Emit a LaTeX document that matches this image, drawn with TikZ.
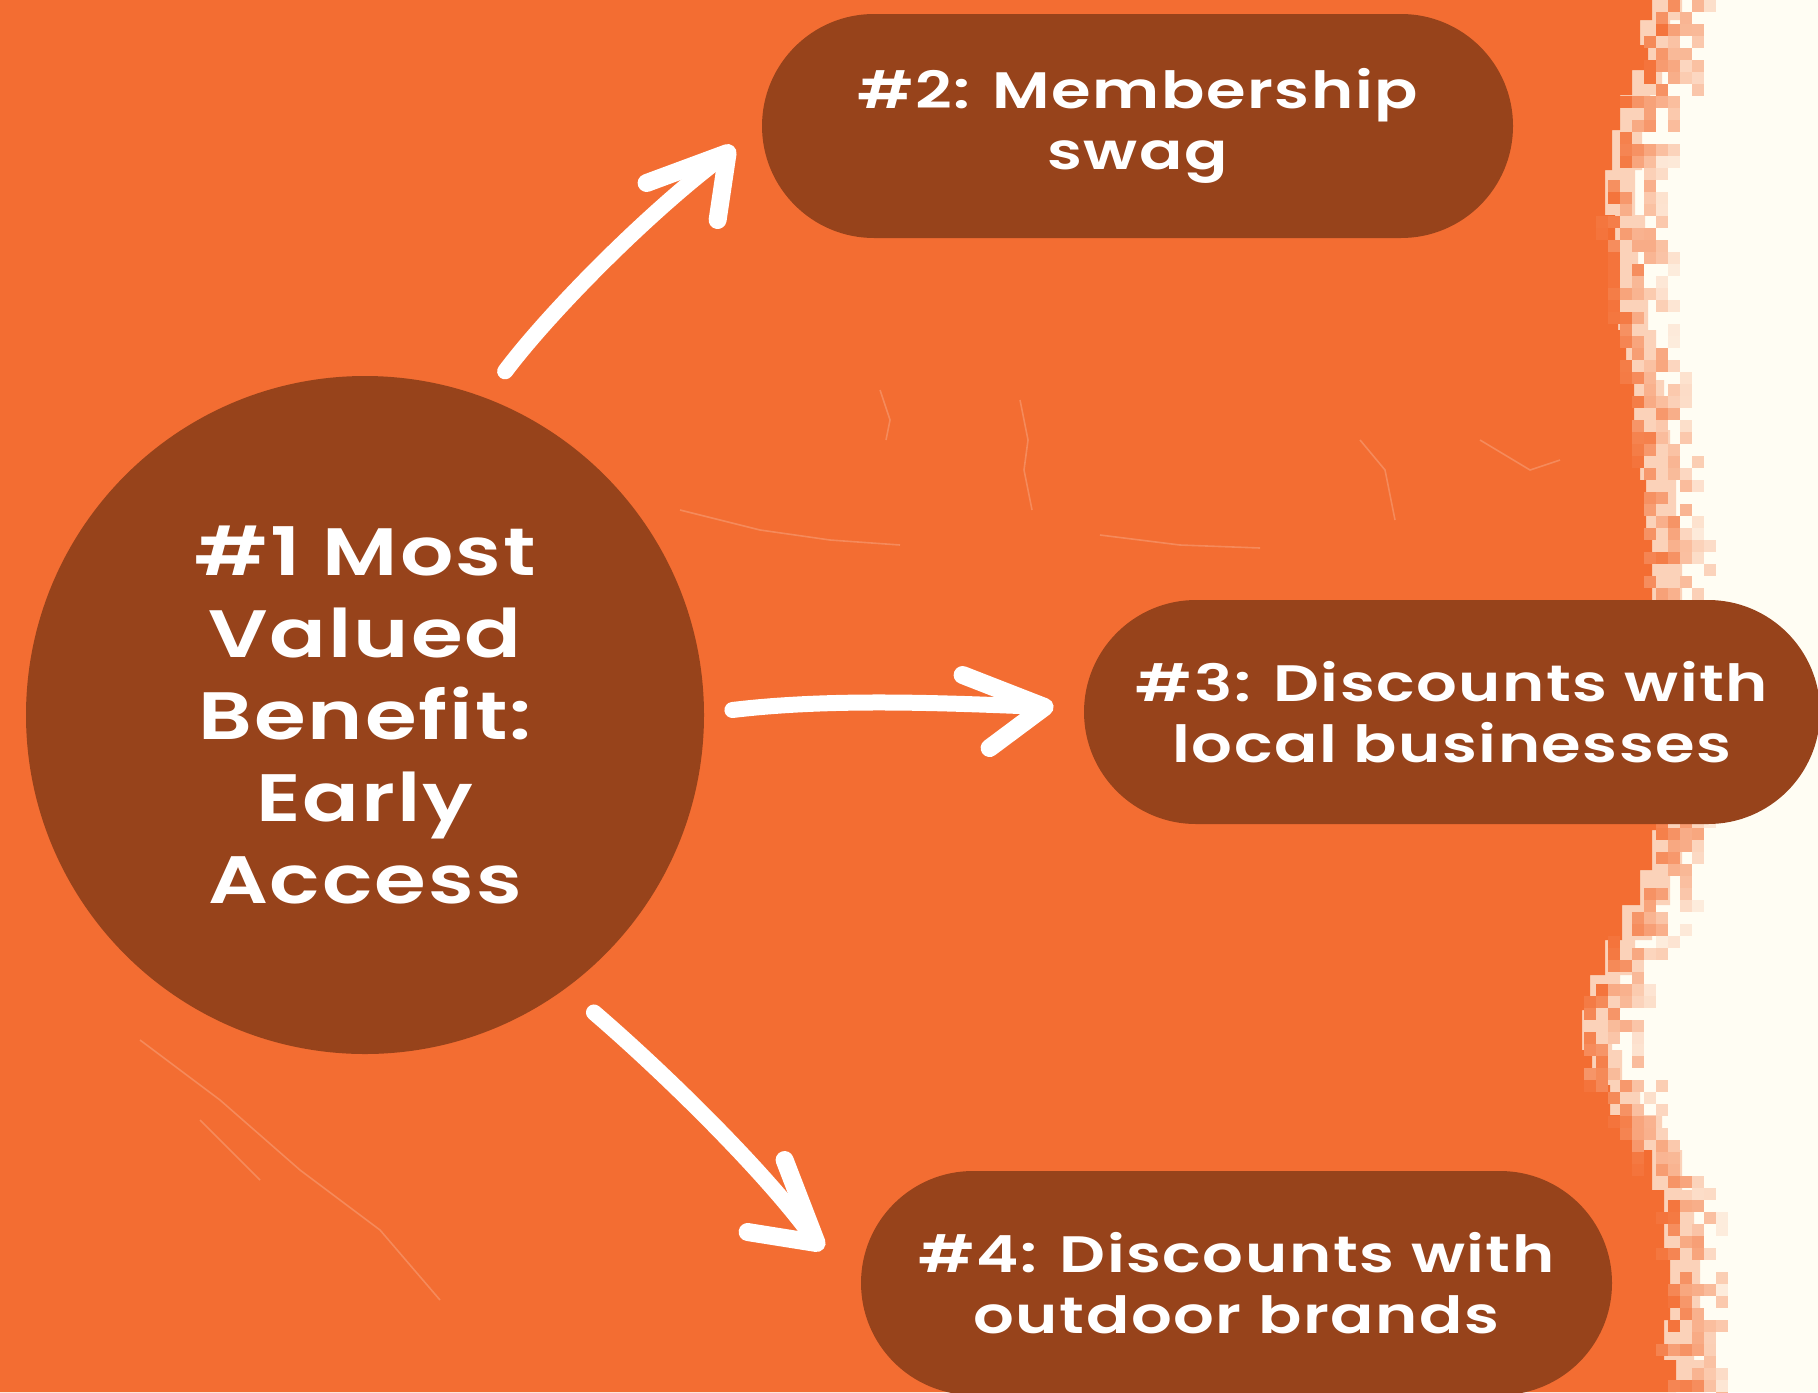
\documentclass[tikz,border=0pt]{standalone}
\usepackage{fontspec}
\usetikzlibrary{calc}
\newfontfamily\widefont{Poppins}[FakeStretch=1.25,LetterSpace=3,BoldFont={Poppins SemiBold}]
\newcommand\pillfont{\widefont\bfseries\fontsize{25.6pt}{30.5pt}\selectfont}
\newcommand\circfont{\widefont\bfseries\fontsize{33.5pt}{41pt}\selectfont}
\definecolor{bgorange}{HTML}{F36D32}
\definecolor{cream}{HTML}{FFFDF3}
\definecolor{brownc}{HTML}{97431B}
\begin{document}
\begin{tikzpicture}[x=0.5pt,y=-0.5pt,
  pill/.style={fill=brownc, rounded corners=56pt, minimum height=112pt, inner sep=0pt, text=white, align=center, font=\pillfont},
  bubble/.style={circle, fill=brownc, minimum size=339pt, inner sep=0pt, text=white, align=center, font=\circfont},
  arrowline/.style={draw=white, line width=8pt, line cap=round, line join=round},
  headline/.style={draw=white, line width=9pt, line cap=round, line join=round},
  scratch/.style={draw=white, opacity=0.2, line width=0.8pt}]
\useasboundingbox (0,0) rectangle (1818,1392);
% background
\fill[cream] (0,0) rectangle (1818,1392);
% pale transition band
\fill[bgorange!30!cream] (0,0) -- (1682,0) -- (1682,20) -- (1670,20) -- (1670,45) -- (1678,45) -- (1678,70) -- (1662,70) -- (1662,95) -- (1650,95) -- (1650,130) -- (1642,130) -- (1642,170) -- (1635,170) -- (1635,215) -- (1645,215) -- (1645,250) -- (1638,250) -- (1638,290) -- (1648,290) -- (1648,330) -- (1656,330) -- (1656,380) -- (1664,380) -- (1664,430) -- (1670,430) -- (1670,480) -- (1676,480) -- (1676,540) -- (1682,540) -- (1682,600) -- (1690,600) -- (1690,830) -- (1682,830) -- (1682,870) -- (1670,870) -- (1670,905) -- (1652,905) -- (1652,940) -- (1635,940) -- (1635,975) -- (1620,975) -- (1620,1010) -- (1612,1010) -- (1612,1050) -- (1622,1050) -- (1622,1085) -- (1640,1085) -- (1640,1115) -- (1662,1115) -- (1662,1150) -- (1682,1150) -- (1682,1190) -- (1694,1190) -- (1694,1250) -- (1700,1250) -- (1700,1320) -- (1694,1320) -- (1694,1360) -- (1706,1360) -- (1706,1392) -- (0,1392) -- cycle;
% orange area
\fill[bgorange] (0,0) -- (1652,0) -- (1652,20) -- (1640,20) -- (1640,45) -- (1648,45) -- (1648,70) -- (1632,70) -- (1632,95) -- (1620,95) -- (1620,130) -- (1612,130) -- (1612,170) -- (1605,170) -- (1605,215) -- (1615,215) -- (1615,250) -- (1608,250) -- (1608,290) -- (1618,290) -- (1618,330) -- (1626,330) -- (1626,380) -- (1634,380) -- (1634,430) -- (1640,430) -- (1640,480) -- (1646,480) -- (1646,540) -- (1652,540) -- (1652,600) -- (1660,600) -- (1660,830) -- (1652,830) -- (1652,870) -- (1640,870) -- (1640,905) -- (1622,905) -- (1622,940) -- (1605,940) -- (1605,975) -- (1590,975) -- (1590,1010) -- (1582,1010) -- (1582,1050) -- (1592,1050) -- (1592,1085) -- (1610,1085) -- (1610,1115) -- (1632,1115) -- (1632,1150) -- (1652,1150) -- (1652,1190) -- (1664,1190) -- (1664,1250) -- (1670,1250) -- (1670,1320) -- (1664,1320) -- (1664,1360) -- (1676,1360) -- (1676,1392) -- (0,1392) -- cycle;
% pixelated fuzzy edge
\pgfmathsetseed{4242}
\foreach \ey/\ex in {0/1652,30/1642,60/1646,90/1630,120/1620,150/1612,180/1608,210/1606,240/1614,270/1610,300/1614,330/1620,360/1625,390/1630,420/1633,450/1638,480/1642,510/1645,540/1648,570/1652,810/1656,840/1652,870/1642,900/1625,930/1610,960/1598,990/1588,1020/1584,1050/1588,1080/1598,1110/1615,1140/1635,1170/1652,1200/1662,1230/1666,1260/1668,1290/1670,1320/1666,1350/1668,1380/1676}{
  \foreach \k in {1,...,11}{
    \pgfmathsetmacro\qo{30*rand+24}
    \pgfmathsetmacro\qx{12*round((\ex+\qo)/12)}
    \pgfmathsetmacro\qy{12*round((\ey+15*rand+15)/12)}
    \pgfmathsetmacro\qm{int(max(12,min(95,86-1.25*\qo+14*rand)))}
    \fill[bgorange!\qm!cream] (\qx,\qy) rectangle ++(12,12);
  }
}
% faint scratches
\draw[scratch] (1020,400) -- (1028,440) -- (1024,470) -- (1032,510);
\draw[scratch] (880,390) -- (890,420) -- (886,440);
\draw[scratch] (1360,440) -- (1385,470) -- (1395,520);
\draw[scratch] (680,510) -- (760,530) -- (830,540) -- (900,545);
\draw[scratch] (1100,535) -- (1180,545) -- (1260,548);
\draw[scratch] (140,1040) -- (220,1100) -- (300,1170) -- (380,1230) -- (440,1300);
\draw[scratch] (200,1120) -- (260,1180);
\draw[scratch] (1480,440) -- (1530,470) -- (1560,460);
% nodes
\node[bubble] (c1) at (365,715) {\#1 Most\\Valued\\Benefit:\\Early\\Access};
\node[pill, minimum width=375.5pt] (p2) at (1137.5,126) {\#2: Membership\\swag};
\node[pill, minimum width=368pt] (p3) at (1452,712) {\#3: Discounts with\\local businesses};
\node[pill, minimum width=375.5pt] (p4) at (1236.5,1283) {\#4: Discounts with\\outdoor brands};
% connector end points
\coordinate (s1) at ([shift={(13,-29)}]c1.68.6);
\coordinate (t1) at ([shift={(-34,27)}]p2.west);
\coordinate (s2) at ([shift={(28,-5)}]c1.east);
\coordinate (t2) at ([shift={(-39,-5)}]p3.west);
\coordinate (s3) at ([shift={(20,30)}]c1.-52.3);
\coordinate (t3) at ([shift={(-44,-40)}]p4.west);
% arrows
\draw[arrowline] (s1) .. controls +(45,-60) and +(-75,55) .. (t1);
\draw[headline] ([shift={(-81,30)}]t1) -- (t1) -- ([shift={(-10,67)}]t1);
\draw[arrowline] (s2) .. controls +(100,-12) and +(-100,-4) .. (t2);
\draw[headline] ([shift={(-82,-32)}]t2) -- (t2) -- ([shift={(-55,41)}]t2);
\draw[arrowline] (s3) .. controls +(70,60) and +(-45,-65) .. (t3);
\draw[headline] ([shift={(-32,-83)}]t3) -- (t3) -- ([shift={(-69,-11)}]t3);
\end{tikzpicture}
\end{document}
